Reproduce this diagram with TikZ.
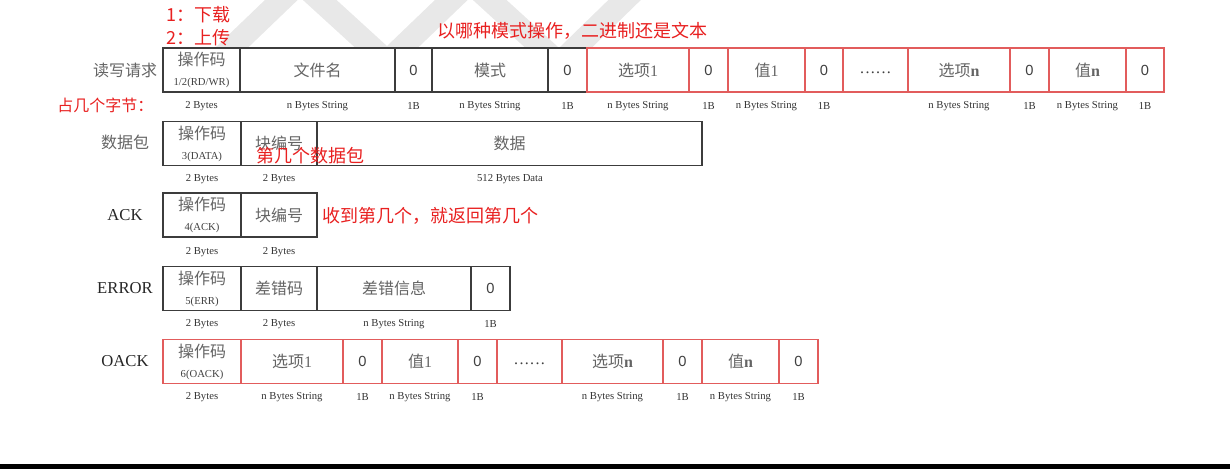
\documentclass[tikz,border=0pt]{standalone}
\usepackage{fontspec}
\setmainfont{Liberation Serif}
\newfontfamily\cjk{Noto Sans CJK SC}
\newfontfamily\zerofont{Liberation Sans}

\definecolor{boxred}{RGB}{226,92,92}
\definecolor{notered}{RGB}{232,32,32}
\definecolor{boxgray}{RGB}{60,60,60}
\definecolor{txtgray}{RGB}{100,100,100}

\newcommand{\zh}[1]{{\cjk #1}}
\newcommand{\zero}{{\zerofont\fontsize{11}{13}\selectfont\color{black!75}0}}
\newcommand{\dotrow}{\raisebox{-2.5pt}[0pt][0pt]{\color{black!75}.\kern1pt.\kern1pt.\kern1pt.\kern1pt.\kern1pt.}}
\newcommand{\opcode}[1]{\zh{操作码}\\[0pt]{\fontsize{8}{8}\selectfont\color{black!75}#1}}

\tikzset{
  cell/.style={draw=boxgray,line width=0.9pt,minimum height=33pt,inner sep=0pt,
    align=center,text=txtgray,font=\fontsize{12}{15}\selectfont},
  rcell/.style={cell,draw=boxred},
  bytes/.style={inner sep=0pt,text=black!80,font=\fontsize{8}{9}\selectfont},
  note/.style={anchor=west,inner sep=0pt,text=notered,font=\cjk\fontsize{13.5}{16}\selectfont},
  rowlbl/.style={inner sep=0pt,font=\fontsize{12.5}{15}\selectfont},
  wm/.style={line width=17pt,draw=black!9,line join=miter}
}

\begin{document}
\begin{tikzpicture}[x=0.75pt,y=-0.75pt]
  \def\pw{0.75pt}
  \useasboundingbox (0,0) rectangle (1230,469);

  % 透かし
  \begin{scope}
    \clip (0,0) rectangle (1230,46);
    \draw[wm] (224,55) -- (300,-18) -- (380,55);
    \draw[wm] (394,55) -- (470,-18) -- (550,55);
    \draw[wm] (568,55) -- (640,-15);
  \end{scope}

  % 行ラベル
  \node[rowlbl,text=txtgray,font=\cjk\fontsize{12}{15}\selectfont] (lb-rq) at (125,70) {读写请求};
  \node[rowlbl,text=txtgray,font=\cjk\fontsize{12}{15}\selectfont] (lb-dt) at (125,142.5) {数据包};
  \node[rowlbl,text=black!85] (lb-ack) at (125,215) {ACK};
  \node[rowlbl,text=black!85] (lb-err) at (125,288.5) {ERROR};
  \node[rowlbl,text=black!85] (lb-oack) at (125,361.5) {OACK};

  % --- 读写请求 ---
  \node[cell,minimum width=77*\pw] (rq-op) at (201.5,70) {\opcode{1/2(RD/WR)}};
  \node[cell,minimum width=155*\pw] (rq-file) at (317.5,70) {\zh{文件名}};
  \node[cell,minimum width=37*\pw] (rq-z1) at (413.5,70) {\zero};
  \node[cell,minimum width=116*\pw] (rq-mode) at (490,70) {\zh{模式}};
  \node[cell,minimum width=39*\pw] (rq-z2) at (567.5,70) {\zero};
  \node[rcell,minimum width=102*\pw] (rq-opt1) at (638,70) {\zh{选项}1};
  \node[rcell,minimum width=39*\pw] (rq-z3) at (708.5,70) {\zero};
  \node[rcell,minimum width=77*\pw] (rq-val1) at (766.5,70) {\zh{值}1};
  \node[rcell,minimum width=38*\pw] (rq-z4) at (824,70) {\zero};
  \node[rcell,minimum width=65*\pw] (rq-dots) at (875.5,70) {\dotrow};
  \node[rcell,minimum width=102*\pw] (rq-optn) at (959,70) {\zh{选项}\textbf{n}};
  \node[rcell,minimum width=39*\pw] (rq-z5) at (1029.5,70) {\zero};
  \node[rcell,minimum width=77*\pw] (rq-valn) at (1087.5,70) {\zh{值}\textbf{n}};
  \node[rcell,minimum width=38*\pw] (rq-z6) at (1145,70) {\zero};
  \foreach \x/\t [count=\i] in {201.5/2 Bytes,317.5/n Bytes String,413.5/1B,490/n Bytes String,
      567.5/1B,638/n Bytes String,708.5/1B,766.5/n Bytes String,824/1B,959/n Bytes String,
      1029.5/1B,1087.5/n Bytes String,1145/1B}
    \node[bytes] (rq-b\i) at (\x,106) {\t};

  % --- 数据包 ---
  \node[cell,minimum width=78*\pw] (dt-op) at (202,143.5) {\opcode{3(DATA)}};
  \node[cell,minimum width=76*\pw] (dt-blk) at (279,143.5) {\zh{块编号}};
  \node[cell,minimum width=385*\pw] (dt-data) at (509.5,143.5) {\zh{数据}};
  \foreach \x/\t [count=\i] in {202/2 Bytes,279/2 Bytes,510/512 Bytes Data}
    \node[bytes] (dt-b\i) at (\x,179) {\t};

  % --- ACK ---
  \node[cell,minimum width=78*\pw] (ack-op) at (202,215) {\opcode{4(ACK)}};
  \node[cell,minimum width=76*\pw] (ack-blk) at (279,215) {\zh{块编号}};
  \foreach \x/\t [count=\i] in {202/2 Bytes,279/2 Bytes}
    \node[bytes] (ack-b\i) at (\x,252) {\t};

  % --- ERROR ---
  \node[cell,minimum width=78*\pw] (err-op) at (202,288.5) {\opcode{5(ERR)}};
  \node[cell,minimum width=76*\pw] (err-code) at (279,288.5) {\zh{差错码}};
  \node[cell,minimum width=154*\pw] (err-msg) at (394,288.5) {\zh{差错信息}};
  \node[cell,minimum width=39*\pw] (err-z) at (490.5,288.5) {\zero};
  \foreach \x/\t [count=\i] in {202/2 Bytes,279/2 Bytes,394/n Bytes String,490.5/1B}
    \node[bytes] (err-b\i) at (\x,324) {\t};

  % --- OACK ---
  \node[rcell,minimum width=78*\pw] (oack-op) at (202,361.5) {\opcode{6(OACK)}};
  \node[rcell,minimum width=102*\pw] (oack-opt1) at (292,361.5) {\zh{选项}1};
  \node[rcell,minimum width=39*\pw] (oack-z1) at (362.5,361.5) {\zero};
  \node[rcell,minimum width=76*\pw] (oack-val1) at (420,361.5) {\zh{值}1};
  \node[rcell,minimum width=39*\pw] (oack-z2) at (477.5,361.5) {\zero};
  \node[rcell,minimum width=65*\pw] (oack-dots) at (529.5,361.5) {\dotrow};
  \node[rcell,minimum width=101*\pw] (oack-optn) at (612.5,361.5) {\zh{选项}\textbf{n}};
  \node[rcell,minimum width=39*\pw] (oack-z3) at (682.5,361.5) {\zero};
  \node[rcell,minimum width=77*\pw] (oack-valn) at (740.5,361.5) {\zh{值}\textbf{n}};
  \node[rcell,minimum width=39*\pw] (oack-z4) at (798.5,361.5) {\zero};
  \foreach \x/\t [count=\i] in {202/2 Bytes,292/n Bytes String,362.5/1B,420/n Bytes String,
      477.5/1B,612.5/n Bytes String,682.5/1B,740.5/n Bytes String,798.5/1B}
    \node[bytes] (oack-b\i) at (\x,397) {\t};

  % 注釈
  \node[note] (nt-down) at (166,15) {1：下载};
  \node[note] (nt-up) at (166,38) {2：上传};
  \node[note] (nt-mode) at (437,31) {以哪种模式操作，二进制还是文本};
  \node[note,font=\cjk\fontsize{12}{14}\selectfont] (nt-size) at (57,105) {占几个字节：};
  \node[note] (nt-pkt) at (256,156) {第几个数据包};
  \node[note] (nt-ack) at (322,216) {收到第几个，就返回第几个};

  % 下端
  \fill[black] (0,464) rectangle (1230,469);
\end{tikzpicture}
\end{document}
